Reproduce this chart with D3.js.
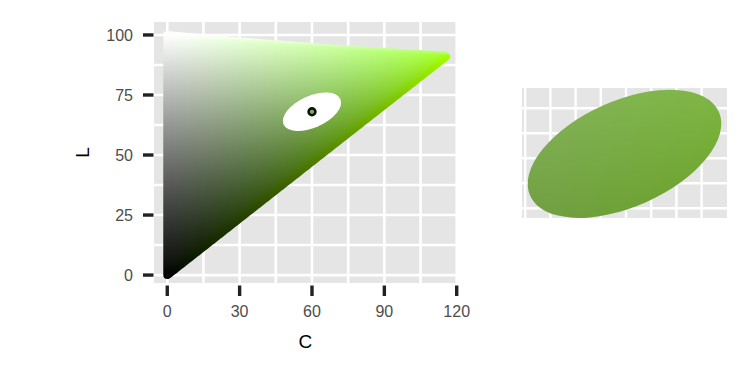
<!DOCTYPE html>
<html>
<head>
<meta charset="utf-8">
<script src="https://cdn.jsdelivr.net/npm/d3@7"></script>
<style>
  body { margin: 0; background: #fff; }
  svg { display: block; }
  text { font-family: "Liberation Sans", Arial, sans-serif; }
</style>
</head>
<body>
<svg width="750" height="375"></svg>
<script>
// hue of the chroma-luminance slice (polar LUV)
const hue = 113
// axis ticks
const cTicks = [0, 30, 60, 90, 120]
const lTicks = [0, 25, 50, 75, 100]
const cMinor = [15, 45, 75, 105]
const lMinor = [12.5, 37.5, 62.5, 87.5]
// axis limits of the main panel
const cLim = [-5.5, 120]
const lLim = [-3.3, 105.4]
// selected colour and the ellipse round it (data units, degrees)
const picked = [{ C: 60, L: 68 }]
const ellipse = { a: 12.9, b: 6.6, angle: 24 }
// magnified panel: centre, limits and its ellipse
const zoomCenter = [{ C: 66, L: 64.5 }]
const zoomCLim = [59.6, 72.4]
const zoomLLim = [60.5, 68.6]
const zoomEllipse = { a: 6.45, b: 3.3, angle: 24 }
// grid of the magnified panel (cell units)
const zoomGridX = [0, 1, 2, 3, 4, 5, 6, 7]
const zoomGridY = [0, 1, 2, 3, 4]

// polar LUV -> sRGB
const Xn = 95.047, Yn = 100, Zn = 108.883
const un = (4 * Xn) / (Xn + 15 * Yn + 3 * Zn)
const vn = (9 * Yn) / (Xn + 15 * Yn + 3 * Zn)
function luvLinear(L, C, H) {
  if (L <= 0) return [0, 0, 0]
  const h = (H * Math.PI) / 180
  const u = C * Math.cos(h), v = C * Math.sin(h)
  const Y = L > 8 ? Math.pow((L + 16) / 116, 3) : L / 903.3
  const up = u / (13 * L) + un
  const vp = v / (13 * L) + vn
  const X = (Y * 9 * up) / (4 * vp)
  const Z = (Y * (12 - 3 * up - 20 * vp)) / (4 * vp)
  return [
    3.240479 * X - 1.53715 * Y - 0.498535 * Z,
    -0.969256 * X + 1.875992 * Y + 0.041556 * Z,
    0.055648 * X - 0.204043 * Y + 1.057311 * Z,
  ]
}
function gam(c) {
  c = Math.min(1, Math.max(0, c))
  return 255 * (c <= 0.0031308 ? 12.92 * c : 1.055 * Math.pow(c, 1 / 2.4) - 0.055)
}
function luv2rgb(L, C, H) {
  return luvLinear(L, C, H).map(gam)
}
function inGamut(L, C, H) {
  return luvLinear(L, C, H).every((c) => c >= -1e-4 && c <= 1 + 1e-4)
}
// largest chroma inside sRGB for a luminance
function maxChroma(L) {
  if (L <= 0 || L >= 100) return 0
  let lo = 0, hi = 200
  for (let i = 0; i < 30; i++) {
    const m = (lo + hi) / 2
    if (inGamut(L, m, hue)) lo = m
    else hi = m
  }
  return lo
}

const svg = d3.select("svg")

const x = d3.scaleLinear().domain(cLim).range([154, 456.7])
const y = d3.scaleLinear().domain(lLim).range([283, 22])

// panel background and grid
svg.append("rect")
  .attr("x", x(cLim[0])).attr("y", y(lLim[1]))
  .attr("width", x(cLim[1]) - x(cLim[0]))
  .attr("height", y(lLim[0]) - y(lLim[1]))
  .attr("fill", "#e5e5e5")

const grid = svg.append("g").attr("stroke", "#fff").attr("stroke-width", 2.6)
grid.selectAll(".gx")
  .data(cTicks.concat(cMinor))
  .enter().append("line")
  .attr("x1", (d) => x(d)).attr("x2", (d) => x(d))
  .attr("y1", y(lLim[0])).attr("y2", y(lLim[1]))
grid.selectAll(".gy")
  .data(lTicks.concat(lMinor))
  .enter().append("line")
  .attr("y1", (d) => y(d)).attr("y2", (d) => y(d))
  .attr("x1", x(cLim[0])).attr("x2", x(cLim[1]))

// colour raster of the C-L slice
const px0 = Math.floor(x(cLim[0])), py0 = Math.floor(y(lLim[1]))
const pw = Math.ceil(x(cLim[1])) - px0, ph = Math.ceil(y(lLim[0])) - py0

const colCanvas = document.createElement("canvas")
colCanvas.width = pw; colCanvas.height = ph
const cctx = colCanvas.getContext("2d")
const img = cctx.createImageData(pw, ph)
for (let j = 0; j < ph; j++) {
  const L = Math.min(100, Math.max(0, y.invert(py0 + j + 0.5)))
  const cmax = maxChroma(L)
  for (let i = 0; i < pw; i++) {
    const C = Math.min(cmax, Math.max(0, x.invert(px0 + i + 0.5)))
    const rgb = luv2rgb(L, C, hue)
    const k = (j * pw + i) * 4
    img.data[k] = rgb[0]; img.data[k + 1] = rgb[1]; img.data[k + 2] = rgb[2]; img.data[k + 3] = 255
  }
}
cctx.putImageData(img, 0, 0)

// gamut outline
const gamut = d3.range(0, 100.01, 0.5).map((L) => ({ C: maxChroma(L), L }))
gamut.push({ C: 0, L: 100 })
gamut.unshift({ C: 0, L: 0 })

const maskCanvas = document.createElement("canvas")
maskCanvas.width = pw; maskCanvas.height = ph
const mctx = maskCanvas.getContext("2d")
mctx.beginPath()
gamut.forEach((p, i) => {
  const gx = x(p.C) - px0, gy = y(p.L) - py0
  if (i === 0) mctx.moveTo(gx, gy)
  else mctx.lineTo(gx, gy)
})
mctx.closePath()
mctx.fillStyle = "#fff"
mctx.strokeStyle = "#fff"
mctx.lineWidth = 8
mctx.lineJoin = "round"
mctx.fill()
mctx.stroke()
mctx.globalCompositeOperation = "source-in"
mctx.drawImage(colCanvas, 0, 0)

svg.append("image")
  .attr("x", px0).attr("y", py0)
  .attr("width", pw).attr("height", ph)
  .attr("href", maskCanvas.toDataURL())

// white ellipse round the picked colour
svg.selectAll(".hole")
  .data(picked)
  .enter().append("ellipse")
  .attr("cx", 0).attr("cy", 0)
  .attr("rx", ellipse.a * (x(1) - x(0)))
  .attr("ry", ellipse.b * (y(0) - y(1)))
  .attr("transform", (d) => `translate(${x(d.C)},${y(d.L)}) rotate(${-ellipse.angle})`)
  .attr("fill", "#fff")

svg.selectAll(".pick")
  .data(picked)
  .enter().append("circle")
  .attr("cx", (d) => x(d.C)).attr("cy", (d) => y(d.L))
  .attr("r", 3.4)
  .attr("fill", (d) => d3.rgb(...luv2rgb(d.L, d.C, hue)))
  .attr("stroke", "#111")
  .attr("stroke-width", 2.6)

// axes
const tickCol = "#222"
svg.selectAll(".ytick")
  .data(lTicks)
  .enter().append("line")
  .attr("x1", 143).attr("x2", 153.5)
  .attr("y1", (d) => y(d)).attr("y2", (d) => y(d))
  .attr("stroke", tickCol).attr("stroke-width", 3.4)
svg.selectAll(".ylab")
  .data(lTicks)
  .enter().append("text")
  .attr("x", 133).attr("y", (d) => y(d))
  .attr("dy", "0.35em")
  .attr("text-anchor", "end")
  .attr("font-size", 16)
  .attr("fill", "#4d4d4d")
  .text((d) => d)

svg.selectAll(".xtick")
  .data(cTicks)
  .enter().append("line")
  .attr("y1", 285.5).attr("y2", 296)
  .attr("x1", (d) => x(d)).attr("x2", (d) => x(d))
  .attr("stroke", tickCol).attr("stroke-width", 3.4)
svg.selectAll(".xlab")
  .data(cTicks)
  .enter().append("text")
  .attr("x", (d) => x(d)).attr("y", 317)
  .attr("text-anchor", "middle")
  .attr("font-size", 16)
  .attr("fill", "#4d4d4d")
  .text((d) => d)

svg.append("text")
  .attr("x", (x(cLim[0]) + x(cLim[1])) / 2).attr("y", 348)
  .attr("text-anchor", "middle")
  .attr("font-size", 19)
  .attr("fill", "#000")
  .text("C")
svg.append("text")
  .attr("transform", `translate(89,${(y(lLim[0]) + y(lLim[1])) / 2}) rotate(-90)`)
  .attr("text-anchor", "middle")
  .attr("font-size", 19)
  .attr("fill", "#000")
  .text("L")

// magnified view of the ellipse
const zx = d3.scaleLinear().domain(zoomCLim).range([522, 727])
const zy = d3.scaleLinear().domain(zoomLLim).range([218, 88])
const gx = d3.scaleLinear().domain([0, 1]).range([525.2, 550.4])
const gy = d3.scaleLinear().domain([0, 1]).range([108.3, 133.3])

svg.append("rect")
  .attr("x", zx(zoomCLim[0])).attr("y", zy(zoomLLim[1]))
  .attr("width", zx(zoomCLim[1]) - zx(zoomCLim[0]))
  .attr("height", zy(zoomLLim[0]) - zy(zoomLLim[1]))
  .attr("fill", "#e5e5e5")
const zgrid = svg.append("g").attr("stroke", "#fff").attr("stroke-width", 2.4)
zgrid.selectAll(".zx")
  .data(zoomGridX)
  .enter().append("line")
  .attr("x1", (d) => gx(d)).attr("x2", (d) => gx(d))
  .attr("y1", zy(zoomLLim[0])).attr("y2", zy(zoomLLim[1]))
zgrid.selectAll(".zy")
  .data(zoomGridY)
  .enter().append("line")
  .attr("y1", (d) => gy(d)).attr("y2", (d) => gy(d))
  .attr("x1", zx(zoomCLim[0])).attr("x2", zx(zoomCLim[1]))

const zx0 = Math.floor(zx(zoomCLim[0])), zy0 = Math.floor(zy(zoomLLim[1]))
const zw = Math.ceil(zx(zoomCLim[1])) - zx0, zh = Math.ceil(zy(zoomLLim[0])) - zy0
const zCanvas = document.createElement("canvas")
zCanvas.width = zw; zCanvas.height = zh
const zctx = zCanvas.getContext("2d")
const zimg = zctx.createImageData(zw, zh)
for (let j = 0; j < zh; j++) {
  const L = zy.invert(zy0 + j + 0.5)
  for (let i = 0; i < zw; i++) {
    const C = zx.invert(zx0 + i + 0.5)
    const rgb = luv2rgb(L, C, hue)
    const k = (j * zw + i) * 4
    zimg.data[k] = rgb[0]; zimg.data[k + 1] = rgb[1]; zimg.data[k + 2] = rgb[2]; zimg.data[k + 3] = 255
  }
}
zctx.putImageData(zimg, 0, 0)

const zmask = document.createElement("canvas")
zmask.width = zw; zmask.height = zh
const zm = zmask.getContext("2d")
zoomCenter.forEach((d) => {
  zm.beginPath()
  zm.ellipse(
    zx(d.C) - zx0, zy(d.L) - zy0,
    zoomEllipse.a * (zx(1) - zx(0)), zoomEllipse.b * (zy(0) - zy(1)),
    (-zoomEllipse.angle * Math.PI) / 180, 0, 2 * Math.PI
  )
  zm.fillStyle = "#fff"
  zm.fill()
})
zm.globalCompositeOperation = "source-in"
zm.drawImage(zCanvas, 0, 0)

svg.append("image")
  .attr("x", zx0).attr("y", zy0)
  .attr("width", zw).attr("height", zh)
  .attr("href", zmask.toDataURL())
</script>
</body>
</html>
